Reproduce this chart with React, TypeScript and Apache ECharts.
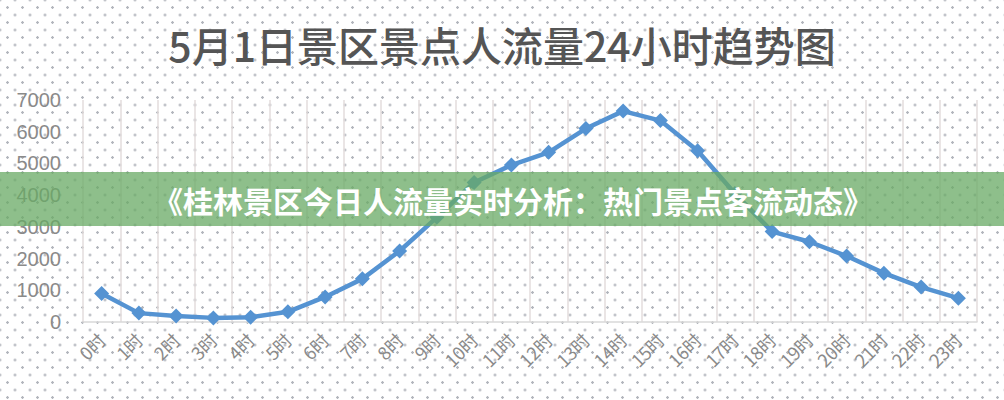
import { useEffect, useRef } from 'react';
import * as echarts from 'echarts';

const hours = [
  '0时', '1时', '2时', '3时', '4时', '5时', '6时', '7时', '8时', '9时', '10时', '11时',
  '12时', '13时', '14时', '15时', '16时', '17时', '18时', '19时', '20时', '21时', '22时', '23时',
];

const visitors = [
  900, 280, 190, 130, 150, 320, 790, 1360, 2240, 3300, 4400, 4950,
  5350, 6100, 6650, 6350, 5400, 4050, 2850, 2530, 2080, 1540, 1100, 750,
];

const chartTitle = '5月1日景区景点人流量24小时趋势图';
const bannerText = '《桂林景区今日人流量实时分析：热门景点客流动态》';

const CJK = '"Noto Sans CJK SC", "Noto Sans", sans-serif';

const App: React.FC = () => {
  const divRef = useRef<HTMLDivElement | null>(null);

  useEffect(() => {
    if (!divRef.current) return;
    const chart = echarts.init(divRef.current, undefined, { renderer: 'svg' });

    chart.setOption({
      animation: false,
      title: {
        text: chartTitle,
        left: 'center',
        top: 18,
        textStyle: { fontFamily: CJK, fontSize: 41, fontWeight: 500, color: '#555555' },
      },
      grid: { left: 83, right: 27, top: 100, bottom: 78 },
      xAxis: {
        type: 'category',
        data: hours,
        boundaryGap: true,
        axisLine: { lineStyle: { color: '#d9d9d9', width: 1.5 } },
        axisTick: { show: false },
        axisLabel: {
          rotate: 45,
          interval: 0,
          margin: 14,
          color: '#8a8a8a',
          fontSize: 18,
          fontFamily: CJK,
        },
        splitLine: {
          show: true,
          showMinLine: true,
          showMaxLine: true,
          lineStyle: { color: '#e3dcdc', width: 1.5 },
        },
      },
      yAxis: {
        type: 'value',
        min: 0,
        max: 7000,
        interval: 1000,
        axisLine: { show: false },
        axisTick: { show: false },
        splitLine: { show: false },
        axisLabel: {
          margin: 22,
          color: '#8a8a8a',
          fontSize: 20,
          fontFamily: '"Liberation Sans", "Noto Sans", sans-serif',
          formatter: (v: number) => String(v),
        },
      },
      series: [
        {
          type: 'line',
          data: visitors,
          symbol: 'diamond',
          symbolSize: 15,
          lineStyle: { color: '#5593d2', width: 4.5 },
          itemStyle: { color: '#5593d2' },
          z: 2,
        },
      ],
      graphic: [
        {
          type: 'rect',
          left: 0,
          top: 172,
          shape: { width: 1004, height: 54 },
          style: { fill: '#68a964', opacity: 0.75 },
          z: 100,
        },
        {
          type: 'text',
          x: 513,
          y: 200,
          style: {
            text: bannerText,
            fill: '#ffffff',
            font: `bold 30px ${CJK}`,
            align: 'center',
            verticalAlign: 'middle',
          },
          z: 101,
        },
      ],
    });

    return () => chart.dispose();
  }, []);

  return (
    <div
      ref={divRef}
      style={{
        position: 'fixed',
        left: 0,
        top: 0,
        width: 1004,
        height: 400,
        backgroundColor: '#ffffff',
        backgroundImage:
          'radial-gradient(circle, #b3b6bd 1.1px, transparent 1.5px), radial-gradient(circle, #b3b6bd 1.1px, transparent 1.5px)',
        backgroundSize: '15px 15px, 15px 15px',
        backgroundPosition: '0 0, 7.5px 7.5px',
      }}
    />
  );
};

export default App;
